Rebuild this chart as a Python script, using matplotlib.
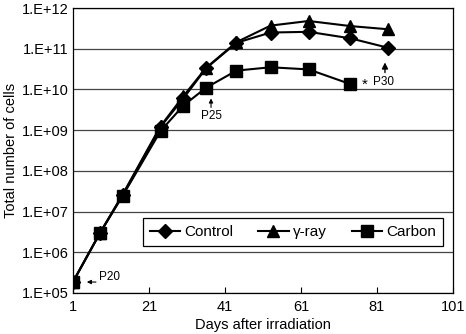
import numpy as np
import matplotlib
matplotlib.use("Agg")
import matplotlib.pyplot as plt
from matplotlib.ticker import FixedLocator, FuncFormatter

plt.rcParams["font.family"] = ["Liberation Sans", "DejaVu Sans"]

# Dias de coleta e número total de células
dias = [1, 8, 14, 24, 30, 36, 44, 53, 63, 74, 84]
controle = [1.9e5, 2.9e6, 2.5e7, 1.2e9, 6.0e9, 3.3e10, 1.4e11, 2.5e11, 2.6e11, 1.8e11, 1.05e11]
gama = [1.9e5, 2.9e6, 2.6e7, 1.25e9, 6.8e9, 3.4e10, 1.45e11, 3.7e11, 4.8e11, 3.6e11, 3.0e11]
carbono = [1.9e5, 2.9e6, 2.4e7, 9.5e8, 4.0e9, 1.1e10, 2.9e10, 3.5e10, 3.1e10, 1.35e10]

fig = plt.figure(figsize=(4.66, 3.34), dpi=100)
ax = fig.add_axes([0.157, 0.123, 0.815, 0.853])

ax.plot(dias, controle, "k-", marker="D", markersize=7, lw=1.5, label="Control")
ax.plot(dias, gama, "k-", marker="^", markersize=8.5, lw=1.5, label="γ-ray")
ax.plot(dias[:len(carbono)], carbono, "k-", marker="s", markersize=8, lw=1.5, label="Carbon")

ax.set_yscale("log")
ax.set_ylim(1e5, 1e12)
ax.set_xlim(1, 101)
ax.yaxis.set_major_locator(FixedLocator([10.0 ** k for k in range(5, 13)]))
ax.yaxis.set_minor_locator(FixedLocator([]))
ax.yaxis.set_major_formatter(FuncFormatter(lambda v, p: f"1.E+{int(round(np.log10(v))):02d}"))
ax.set_xticks([1, 21, 41, 61, 81, 101])
ax.tick_params(axis="x", direction="in", length=4, labelsize=10.5, pad=5)
ax.tick_params(axis="y", length=0, labelsize=10.5, pad=3)
ax.grid(axis="y", color="#444444", lw=0.9)
for s in ax.spines.values():
    s.set_linewidth(0.9)

ax.set_xlabel("Days after irradiation", fontsize=10.5, labelpad=3)
ax.set_ylabel("Total number of cells", fontsize=10.5, labelpad=3)

leg = ax.legend(loc="center", bbox_to_anchor=(0.579, 0.214), ncol=3, fontsize=11,
                frameon=True, fancybox=False, edgecolor="black", framealpha=1,
                handlelength=2.0, columnspacing=1.6, handletextpad=0.3, borderpad=0.45)
leg.get_frame().set_linewidth(0.9)

# Anotações de passagem
seta = dict(arrowstyle="-|>", color="black", lw=0.8, mutation_scale=6, shrinkA=0, shrinkB=0)
ax.annotate("", xy=(4.6, 1.85e5), xytext=(7.0, 1.85e5), arrowprops=seta)
ax.text(7.8, 2.45e5, "P20", fontsize=8.5, va="center")
ax.annotate("", xy=(37.3, 6.0e9), xytext=(37.3, 3.6e9), arrowprops=seta)
ax.text(37.3, 2.2e9, "P25", fontsize=8.5, ha="center", va="center")
ax.annotate("", xy=(83.1, 4.6e10), xytext=(83.1, 2.6e10),
            arrowprops=dict(arrowstyle="-|>", color="black", lw=1.0, mutation_scale=9,
                            shrinkA=0, shrinkB=0))
ax.text(80.0, 1.5e10, "P30", fontsize=8.5, va="center")
ax.text(77.7, 1.3e10, "*", fontsize=11, ha="center", va="center")

fig.savefig("out.png", dpi=100)
